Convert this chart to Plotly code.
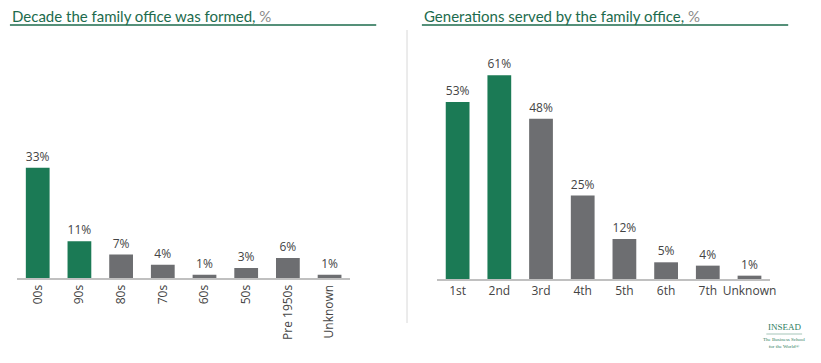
import plotly.graph_objects as go

decade_cats = ["00s", "90s", "80s", "70s", "60s", "50s", "Pre 1950s", "Unknown"]
decade_vals = [33, 11, 7, 4, 1, 3, 6, 1]
decade_highlight = 2

gen_cats = ["1st", "2nd", "3rd", "4th", "5th", "6th", "7th", "Unknown"]
gen_vals = [53, 61, 48, 25, 12, 5, 4, 1]
gen_highlight = 2

GREEN = "#1b7a55"
GRAY = "#6d6e71"
TITLE_GREEN = "#1d6b4d"
W, H = 821, 363

def colors(n, k):
    return [GREEN if i < k else GRAY for i in range(n)]

fig = go.Figure()
fig.add_trace(go.Bar(
    x=list(range(len(decade_cats))), y=decade_vals,
    marker=dict(color=colors(len(decade_vals), decade_highlight), line=dict(width=0)),
    text=[f"{v}%" for v in decade_vals], textposition="outside",
    textfont=dict(size=12, color="#444444", family="Open Sans"),
    cliponaxis=False, xaxis="x", yaxis="y", width=0.57, hoverinfo="skip"))
fig.add_trace(go.Bar(
    x=list(range(len(gen_cats))), y=gen_vals,
    marker=dict(color=colors(len(gen_vals), gen_highlight), line=dict(width=0)),
    text=[f"{v}%" for v in gen_vals], textposition="outside",
    textfont=dict(size=12, color="#444444", family="Open Sans"),
    cliponaxis=False, xaxis="x2", yaxis="y2", width=0.57, hoverinfo="skip"))

ybase = 1 - 278 / H
ytop = 1 - 40 / H
yrange = [0, (278 - 40) / 3.34]

axis_common = dict(showline=True, linecolor="#c0c0c0", linewidth=2, showgrid=False,
                   zeroline=False, ticks="", range=[-0.5, 7.5],
                   tickfont=dict(size=12, color="#444444", family="Open Sans"))

fig.update_layout(
    width=W, height=H, margin=dict(l=0, r=0, t=0, b=0),
    paper_bgcolor="white", plot_bgcolor="white", showlegend=False,
    xaxis=dict(domain=[17 / W, 353 / W], anchor="y", tickmode="array",
               tickvals=list(range(len(decade_cats))), ticktext=decade_cats,
               tickangle=-90, **axis_common),
    yaxis=dict(domain=[ybase, ytop], range=yrange, visible=False),
    xaxis2=dict(domain=[440 / W, 776 / W], anchor="y2", tickmode="array",
                tickvals=list(range(len(gen_cats))), ticktext=gen_cats,
                tickangle=0, **axis_common),
    yaxis2=dict(domain=[1 - 279 / H, ytop - 1 / H], range=yrange, visible=False),
)

def px_x(x):
    return x / W

def px_y(y):
    return 1 - y / H

shapes = [
    dict(type="line", xref="paper", yref="paper", x0=px_x(10), x1=px_x(379),
         y0=px_y(25), y1=px_y(25), line=dict(color=TITLE_GREEN, width=1.5)),
    dict(type="line", xref="paper", yref="paper", x0=px_x(425), x1=px_x(794),
         y0=px_y(25), y1=px_y(25), line=dict(color=TITLE_GREEN, width=1.5)),
    dict(type="line", xref="paper", yref="paper", x0=px_x(410), x1=px_x(410),
         y0=px_y(30), y1=px_y(323), line=dict(color="#d8d8d8", width=1)),
    dict(type="line", xref="paper", yref="paper", x0=px_x(772), x1=px_x(808),
         y0=px_y(334), y1=px_y(334), line=dict(color="#7fae9b", width=0.7)),
]
fig.update_layout(shapes=shapes)

annotations = [
    dict(text="Decade the family office was formed, <span style='color:#8a8a8a'>%</span>",
         x=px_x(10), y=px_y(16), xref="paper", yref="paper", xanchor="left", yanchor="middle",
         showarrow=False, font=dict(size=15, color=TITLE_GREEN, family="Lato")),
    dict(text="Generations served by the family office, <span style='color:#8a8a8a'>%</span>",
         x=px_x(425), y=px_y(16), xref="paper", yref="paper", xanchor="left", yanchor="middle",
         showarrow=False, font=dict(size=15, color=TITLE_GREEN, family="Lato")),
    dict(text="INSEAD", x=px_x(790), y=px_y(327), xref="paper", yref="paper",
         xanchor="center", yanchor="middle", showarrow=False,
         font=dict(size=9, color="#2e7d5e", family="Liberation Serif")),
    dict(text="The Business School<br>for the World®", x=px_x(790), y=px_y(343),
         xref="paper", yref="paper", xanchor="center", yanchor="middle", showarrow=False,
         font=dict(size=5, color="#2e7d5e", family="Liberation Serif")),
]
fig.update_layout(annotations=annotations)

fig.write_html("out.html", config={"displayModeBar": False},
               post_script="document.body.style.margin='0';document.body.style.padding='0';")
